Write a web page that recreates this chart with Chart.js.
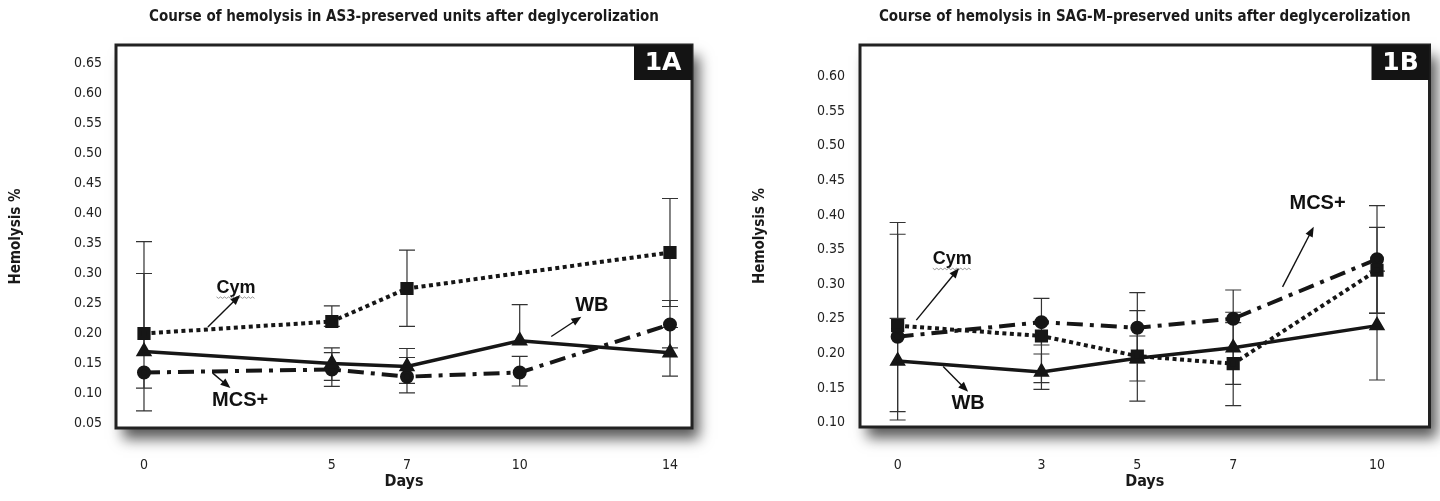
<!DOCTYPE html>
<html>
<head>
<meta charset="utf-8">
<script src="https://cdn.jsdelivr.net/npm/chart.js@4.4.1/dist/chart.umd.min.js"></script>
<style>
  body { margin: 0; background: #fff; }
  .panel { position: absolute; top: 0; width: 720px; height: 501px; }
</style>
</head>
<body>
<div class="panel" style="left:0"><canvas id="chartA" width="720" height="501"></canvas></div>
<div class="panel" style="left:720px"><canvas id="chartB" width="720" height="501"></canvas></div>
<script>
// ---- panel 1A : AS3-preserved units ----
const daysA = [0, 5, 7, 10, 14];
const cymA = [0.20, 0.22, 0.275, null, 0.335];
const wbA = [0.17, 0.15, 0.145, 0.188, 0.168];
const mcsA = [0.135, 0.14, 0.128, 0.135, 0.215];
// error bar ends (null = not visible)
const cymLowA = [0.071, 0.212, 0.212, null, 0.245];
const cymHighA = [0.353, 0.246, 0.339, null, 0.425];
const wbLowA = [null, 0.122, 0.117, null, 0.129];
const wbHighA = [0.300, 0.176, 0.175, 0.248, 0.210];
const mcsLowA = [0.109, 0.112, 0.101, 0.1125, 0.176];
const mcsHighA = [null, 0.168, 0.160, 0.162, 0.255];
const yTicksA = [0.05, 0.10, 0.15, 0.20, 0.25, 0.30, 0.35, 0.40, 0.45, 0.50, 0.55, 0.60, 0.65];
const xTicksA = [0, 5, 7, 10, 14];

// ---- panel 1B : SAG-M-preserved units ----
const daysB = [0, 3, 5, 7, 10];
const cymB = [0.24, 0.225, 0.196, 0.185, 0.32];
const wbB = [0.189, 0.173, 0.193, 0.208, 0.24];
const mcsB = [0.224, 0.245, 0.237, 0.25, 0.336];
const cymLowB = [0.1036, 0.1575, 0.131, 0.1243, 0.258];
const cymHighB = [0.389, null, 0.2616, 0.2442, 0.382];
const wbLowB = [0.1156, 0.148, 0.160, 0.1552, 0.1614];
const wbHighB = [0.2506, 0.199, 0.225, 0.2593, 0.3186];
const mcsLowB = [null, 0.212, 0.1856, null, 0.2578];
const mcsHighB = [0.372, 0.2795, 0.2876, 0.2915, 0.4133];
const yTicksB = [0.10, 0.15, 0.20, 0.25, 0.30, 0.35, 0.40, 0.45, 0.50, 0.55, 0.60];
const xTicksB = [0, 3, 5, 7, 10];

// series labels placed on the plot, in data units
const notesA = [
  { text: 'Cym', at: [2.45, 0.276], from: [1.70, 0.211], to: [2.56, 0.264] },
  { text: 'MCS+', at: [2.56, 0.089], from: [1.83, 0.134], to: [2.30, 0.109] },
  { text: 'WB', at: [11.92, 0.246], from: [10.84, 0.195], to: [11.64, 0.228] }
];
const notesB = [
  { text: 'Cym', at: [1.14, 0.336], from: [0.39, 0.248], to: [1.28, 0.323] },
  { text: 'WB', at: [1.47, 0.127], from: [0.95, 0.181], to: [1.47, 0.1445] },
  { text: 'MCS+', at: [8.76, 0.417], from: [8.03, 0.296], to: [8.68, 0.383] }
];

const narrow = '"Liberation Sans Narrow", "DejaVu Sans Condensed", "Arial Narrow", sans-serif';
const noteSize = { 'Cym': 18, 'WB': 20, 'MCS+': 20 };

// white box with drop shadow, dark frame and the panel tag
const frame = {
  id: 'frame',
  beforeDraw(chart) {
    const { ctx, chartArea: a } = chart;
    ctx.save();
    ctx.shadowColor = 'rgba(0,0,0,0.65)';
    ctx.shadowBlur = 13;
    ctx.shadowOffsetX = 7;
    ctx.shadowOffsetY = 11;
    ctx.fillStyle = '#fff';
    ctx.fillRect(a.left, a.top, a.right - a.left, a.bottom - a.top);
    ctx.restore();
  },
  afterDraw(chart, args, opts) {
    const { ctx, chartArea: a } = chart;
    ctx.save();
    ctx.lineWidth = 3;
    ctx.strokeStyle = '#222';
    ctx.strokeRect(a.left, a.top, a.right - a.left, a.bottom - a.top);
    ctx.fillStyle = '#141414';
    ctx.fillRect(a.right - 58, a.top, 58, 35);
    ctx.fillStyle = '#fff';
    ctx.font = 'bold 25px "DejaVu Sans", sans-serif';
    ctx.textAlign = 'center';
    ctx.textBaseline = 'middle';
    ctx.fillText(opts.tag, a.right - 29, a.top + 18);
    ctx.restore();
  }
};

const errorBars = {
  id: 'errorBars',
  beforeDatasetsDraw(chart) {
    const { ctx, scales: { x, y } } = chart;
    ctx.save();
    ctx.strokeStyle = '#333';
    ctx.lineWidth = 1.2;
    chart.data.datasets.forEach(ds => {
      ds.data.forEach((pt, i) => {
        const lo = ds.errLow[i], hi = ds.errHigh[i];
        if (pt.y == null || (lo == null && hi == null)) return;
        const px = x.getPixelForValue(pt.x);
        const top = y.getPixelForValue(hi != null ? hi : pt.y);
        const bot = y.getPixelForValue(lo != null ? lo : pt.y);
        ctx.beginPath();
        ctx.moveTo(px, top);
        ctx.lineTo(px, bot);
        if (hi != null) { ctx.moveTo(px - 8, top); ctx.lineTo(px + 8, top); }
        if (lo != null) { ctx.moveTo(px - 8, bot); ctx.lineTo(px + 8, bot); }
        ctx.stroke();
      });
    });
    ctx.restore();
  }
};

function arrow(ctx, x0, y0, x1, y1) {
  const ang = Math.atan2(y1 - y0, x1 - x0);
  ctx.beginPath();
  ctx.moveTo(x0, y0);
  ctx.lineTo(x1 - 6 * Math.cos(ang), y1 - 6 * Math.sin(ang));
  ctx.stroke();
  ctx.beginPath();
  ctx.moveTo(x1, y1);
  ctx.lineTo(x1 - 10 * Math.cos(ang) + 4 * Math.sin(ang), y1 - 10 * Math.sin(ang) - 4 * Math.cos(ang));
  ctx.lineTo(x1 - 10 * Math.cos(ang) - 4 * Math.sin(ang), y1 - 10 * Math.sin(ang) + 4 * Math.cos(ang));
  ctx.closePath();
  ctx.fill();
}

const notes = {
  id: 'notes',
  afterDatasetsDraw(chart, args, opts) {
    const { ctx, scales: { x, y } } = chart;
    ctx.save();
    ctx.fillStyle = '#111';
    ctx.strokeStyle = '#111';
    ctx.lineWidth = 1.4;
    opts.items.forEach(n => {
      const tx = x.getPixelForValue(n.at[0]);
      const ty = y.getPixelForValue(n.at[1]);
      ctx.font = 'bold ' + noteSize[n.text] + 'px "Liberation Sans", Arial, sans-serif';
      ctx.textAlign = 'center';
      ctx.textBaseline = 'middle';
      ctx.fillText(n.text, tx, ty);
      if (n.text === 'Cym') {
        // spell-check squiggle under the word
        const w = ctx.measureText(n.text).width;
        ctx.save();
        ctx.strokeStyle = '#999';
        ctx.lineWidth = 1;
        ctx.beginPath();
        for (let k = 0; k <= w; k += 2) {
          const yy = ty + 9 + (k % 4 === 0 ? 0 : 1.5);
          if (k === 0) ctx.moveTo(tx - w / 2 + k, yy); else ctx.lineTo(tx - w / 2 + k, yy);
        }
        ctx.stroke();
        ctx.restore();
      }
      arrow(ctx, x.getPixelForValue(n.from[0]), y.getPixelForValue(n.from[1]),
        x.getPixelForValue(n.to[0]), y.getPixelForValue(n.to[1]));
    });
    ctx.restore();
  }
};

function series(days, vals, lo, hi) {
  return { data: days.map((d, i) => ({ x: d, y: vals[i] })), errLow: lo, errHigh: hi };
}

function makeChart(id, cfg) {
  const cym = series(cfg.days, cfg.cym, cfg.cymLow, cfg.cymHigh);
  const wb = series(cfg.days, cfg.wb, cfg.wbLow, cfg.wbHigh);
  const mcs = series(cfg.days, cfg.mcs, cfg.mcsLow, cfg.mcsHigh);
  return new Chart(document.getElementById(id), {
    type: 'line',
    data: {
      datasets: [
        Object.assign(cym, {
          label: 'Cym', borderColor: '#161616', borderWidth: 4, borderDash: [4, 3.5],
          pointStyle: 'rect', pointRadius: 6.5, pointBackgroundColor: '#161616', pointBorderColor: '#161616',
          spanGaps: true
        }),
        Object.assign(wb, {
          label: 'WB', borderColor: '#161616', borderWidth: 3.5,
          pointStyle: 'triangle', pointRadius: 6, pointBackgroundColor: '#161616', pointBorderColor: '#161616'
        }),
        Object.assign(mcs, {
          label: 'MCS+', borderColor: '#161616', borderWidth: 4, borderDash: [16, 7, 4, 7],
          pointStyle: 'circle', pointRadius: 5, pointBackgroundColor: '#161616', pointBorderColor: '#161616'
        })
      ]
    },
    options: {
      responsive: false,
      animation: false,
      devicePixelRatio: 1,
      layout: { padding: { left: 0, right: cfg.padRight, top: 0, bottom: 0 } },
      plugins: {
        legend: { display: false },
        tooltip: { enabled: false },
        title: {
          display: true,
          text: cfg.title,
          fullSize: false,
          color: '#1a1a1a',
          font: { family: narrow, size: 15, weight: 'bold' },
          padding: { top: 8, bottom: 19 }
        },
        frame: { tag: cfg.tag },
        notes: { items: cfg.notes }
      },
      scales: {
        x: {
          type: 'linear',
          min: cfg.xMin,
          max: cfg.xMax,
          afterBuildTicks: s => { s.ticks = cfg.xTicks.map(v => ({ value: v })); },
          afterFit: s => { s.height = cfg.xHeight; },
          grid: { display: false, drawTicks: false },
          border: { display: false },
          ticks: { color: '#222', padding: cfg.xPad, font: { family: narrow, size: 14 } },
          title: {
            display: true, text: 'Days', color: '#1a1a1a',
            font: { family: narrow, size: 16, weight: 'bold' },
            padding: { top: 0, bottom: 10 }
          }
        },
        y: {
          min: cfg.yMin,
          max: cfg.yMax,
          afterBuildTicks: s => { s.ticks = cfg.yTicks.map(v => ({ value: v })); },
          afterFit: s => { s.width = cfg.yWidth; },
          grid: { display: false, drawTicks: false },
          border: { display: false },
          ticks: {
            color: '#222', padding: cfg.yPad, font: { family: narrow, size: 14 },
            callback: v => v.toFixed(2)
          },
          title: {
            display: true, text: 'Hemolysis %', color: '#1a1a1a',
            font: { family: narrow, size: 15, weight: 'bold' },
            padding: { top: cfg.yTitlePad, bottom: 0 }
          }
        }
      }
    },
    plugins: [frame, errorBars, notes]
  });
}

makeChart('chartA', {
  title: 'Course of hemolysis in AS3-preserved units after deglycerolization',
  tag: '1A',
  days: daysA, cym: cymA, wb: wbA, mcs: mcsA,
  cymLow: cymLowA, cymHigh: cymHighA, wbLow: wbLowA, wbHigh: wbHighA, mcsLow: mcsLowA, mcsHigh: mcsHighA,
  xTicks: xTicksA, yTicks: yTicksA,
  xMin: -0.745, xMax: 14.586, yMin: 0.0425, yMax: 0.6808,
  yWidth: 116, xHeight: 73, padRight: 28, xPad: 29, yPad: 14, yTitlePad: 7,
  notes: notesA
});

makeChart('chartB', {
  title: 'Course of hemolysis in SAG-M\u2013preserved units after deglycerolization',
  tag: '1B',
  days: daysB, cym: cymB, wb: wbB, mcs: mcsB,
  cymLow: cymLowB, cymHigh: cymHighB, wbLow: wbLowB, wbHigh: wbHighB, mcsLow: mcsLowB, mcsHigh: mcsHighB,
  xTicks: xTicksB, yTicks: yTicksB,
  xMin: -0.785, xMax: 11.095, yMin: 0.0935, yMax: 0.6455,
  yWidth: 140, xHeight: 74, padRight: 5, xPad: 30, yPad: 15, yTitlePad: 31,
  notes: notesB
});
</script>
</body>
</html>
